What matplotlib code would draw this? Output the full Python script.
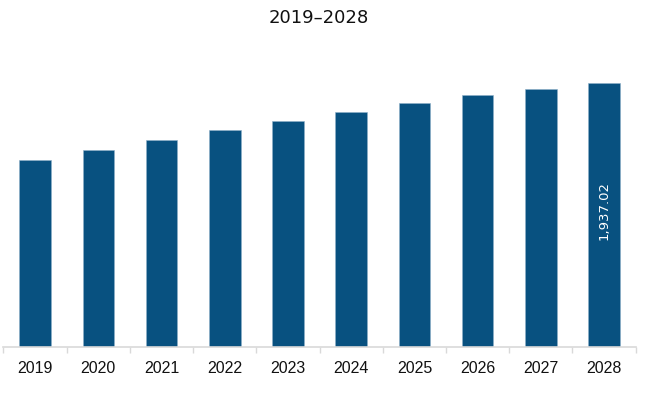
import matplotlib
matplotlib.use("Agg")
import matplotlib.pyplot as plt
import numpy as np

years = ["2019", "2020", "2021", "2022", "2023", "2024", "2025", "2026", "2027", "2028"]
values = [1370, 1443, 1521, 1592, 1660, 1726, 1788, 1847, 1891, 1937.02]
title = "2019–2028"
bar_color = "#085180"

fig = plt.figure(figsize=(6.5, 3.96), dpi=100)
ax = fig.add_axes([3.5 / 650, (396 - 347) / 396, 632.2 / 650, 307 / 396])
x = np.arange(len(years))
ax.bar(x, values, width=0.5, color=bar_color, edgecolor="#8fb0c8", linewidth=0.4)
ax.set_xlim(-0.5, len(years) - 0.5)
ax.set_ylim(0, 2252.5)

for s in ["top", "right", "left"]:
    ax.spines[s].set_visible(False)
ax.spines["bottom"].set_color("#d9d9d9")
ax.spines["bottom"].set_linewidth(1.2)
ax.set_yticks([])
ax.set_xticks(x)
ax.set_xticklabels(years, fontfamily="Liberation Sans", fontsize=11.5, color="#111111")
ax.tick_params(axis="x", which="major", length=0, pad=10)
ax.set_xticks(np.arange(-0.5, len(years)), minor=True)
ax.tick_params(axis="x", which="minor", length=4, color="#d9d9d9", width=1)

ax.text(x[-1], values[-1] / 2 + 35, f"{values[-1]:,.2f}", rotation=90, color="white",
        ha="center", va="center", fontsize=9.5, fontfamily="DejaVu Sans")

fig.text(319 / 650, 1 - 18 / 396, title, ha="center", va="center", fontsize=13,
         fontfamily="DejaVu Sans", color="#111111")

fig.savefig("out.png", dpi=100)
